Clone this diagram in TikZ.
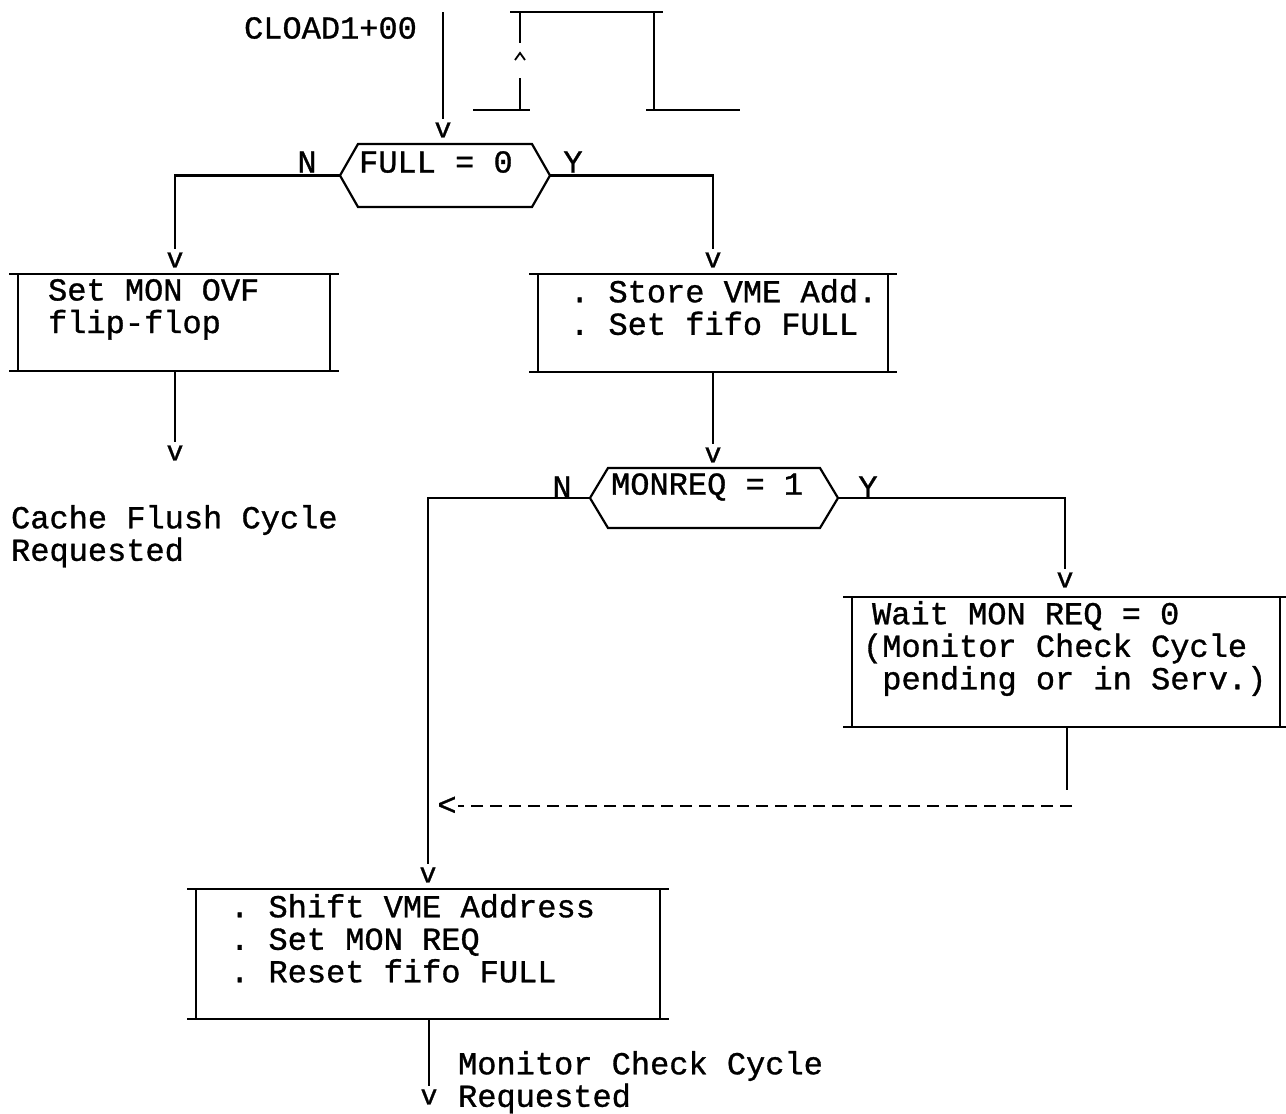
\documentclass[tikz,border=0pt]{standalone}
\usepackage{fontspec}
\newfontfamily\typefont{Liberation Mono}[FakeBold=1]
\usepackage{tikz}
\usetikzlibrary{positioning, calc}

\begin{document}
\frenchspacing
\begin{tikzpicture}[
  x=0.5pt, y=-0.5pt,
  line width=1.1pt,
  procbox/.style={rectangle, draw=none, inner sep=0pt, outer sep=0pt},
  decision/.style={rectangle, draw=none, inner sep=0pt, outer sep=0pt},
  txt/.style={font=\typefont\fontsize{16}{16.25}\selectfont, inner sep=0pt,
    align=left, anchor=north west},
  vmark/.style={font=\typefont\fontsize{14}{14}\selectfont, inner sep=1.5pt},
  waitline/.style={dash pattern=on 6pt off 3.5pt, line width=1.3pt}
]
\useasboundingbox (0,0) rectangle (1286,1114);

% input and pulse
\coordinate (clin) at (443,12);
\node[txt, anchor=west] (cload) at (243,28) {CLOAD1+00};
\node[vmark] (v0) at (443,130) {v};
\draw (clin) -- (v0);
\draw (510,12) -- (663,12)  (520,12) -- (520,43)  (520,78) -- (520,110)
      (473,110) -- (530,110)  (654,12) -- (654,110)  (646,110) -- (740,110);
\draw[line width=0.9pt] (515,60) -- (520,53) -- (525,60);

% FULL = 0
\node[decision, minimum width=87pt, minimum height=31.5pt] (full) at (445,175.5) {};
\node[txt, anchor=west] (fulltxt) at (358,162) {FULL = 0};
\node[txt, anchor=center] (n1) at (307,162) {N};
\node[txt, anchor=center] (y1) at (573,162) {Y};
\node[vmark] (v1) at (175,260) {v};
\node[vmark] (v2) at (713,260) {v};
\draw ([xshift=-9pt]full.west) -| (v1);
\draw ([xshift=9pt]full.east) -| (v2);

\node[procbox, minimum width=156pt, minimum height=48.5pt] (flag) at (174,322.5) {};
\node[txt] (flagtxt) at (47,278) {Set MON OVF\\flip-flop};
\node[procbox, minimum width=175pt, minimum height=49pt] (store) at (713,323) {};
\node[txt] (storetxt) at (569,278) {. Store VME Add.\\. Set fifo FULL};

\node[vmark] (v3) at (175,453) {v};
\draw (v3 |- flag.south) -- (v3);
\node[txt] (flush) at (10,504) {Cache Flush Cycle\\Requested};
\node[vmark] (v4) at (713,455) {v};
\draw (v4 |- store.south) -- (v4);

% MONREQ = 1
\node[decision, minimum width=106pt, minimum height=30pt] (monreq) at (714,498) {};
\node[txt, anchor=west] (monreqtxt) at (610,487) {MONREQ = 1};
\node[txt, anchor=center] (n2) at (562,487) {N};
\node[txt, anchor=center] (y2) at (868,487) {Y};
\node[vmark] (v5) at (1065,580) {v};
\node[vmark] (v6) at (428,875) {v};
\draw ([xshift=-9pt]monreq.west) -| (v6);
\draw ([xshift=9pt]monreq.east) -| (v5);

\node[procbox, minimum width=214pt, minimum height=65pt] (wait) at (1066,662) {};
\node[txt] (waittxt) at (862,600) {\hspace*{4.5pt}Wait MON REQ = 0\\(Monitor Check Cycle\\\hspace*{0.6em}pending or in Serv.)};
\coordinate (waitend) at (1067,790);
\draw (waitend |- wait.south) -- (waitend);
\coordinate (dashr) at (1072,806);
\node[txt, anchor=center] (back) at (447,806) {<};
\draw[waitline] (dashr) -- (back);

\node[procbox, minimum width=232pt, minimum height=65pt] (shift) at (428,954) {};
\node[txt] (shifttxt) at (229,893) {. Shift VME Address\\. Set MON REQ\\. Reset fifo FULL};
\node[vmark] (v7) at (429,1097) {v};
\draw (v7 |- shift.south) -- (v7);
\node[txt] (montxt) at (457,1050) {Monitor Check Cycle\\Requested};

% outlines
\foreach \b in {flag,store,wait,shift}
  \draw (\b.north west) -- (\b.south west)  (\b.north east) -- (\b.south east)
        ([xshift=-4.5pt]\b.north west) -- ([xshift=4.5pt]\b.north east)
        ([xshift=-4.5pt]\b.south west) -- ([xshift=4.5pt]\b.south east);
\foreach \d in {full,monreq}
  \draw (\d.north west) -- (\d.north east) -- ([xshift=9pt]\d.east)
        -- (\d.south east) -- (\d.south west) -- ([xshift=-9pt]\d.west) -- cycle;
\end{tikzpicture}
\end{document}
